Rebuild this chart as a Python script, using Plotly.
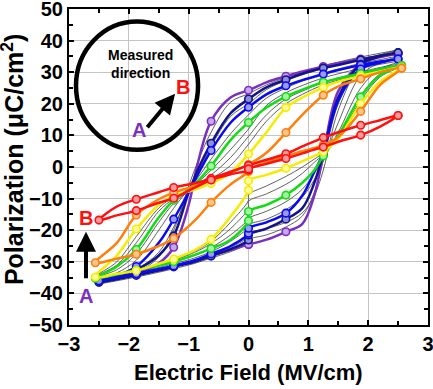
import plotly.graph_objects as go

# ---- field grids (MV/cm) ----
E_UP = [2.5, 2.2, 1.875, 1.5, 1.25, 0.9, 0.625, 0.3, 0, -0.3, -0.625, -0.85, -1.0, -1.25, -1.5, -1.875, -2.2, -2.5]
E_LO = [-2.5, -2.2, -1.875, -1.5, -1.25, -0.9, -0.625, -0.3, 0, 0, 0.3, 0.625, 0.9, 1.1, 1.25, 1.5, 1.875, 2.2, 2.5]
E_UP_W = [2.56, 2.2, 1.875, 1.5, 1.25, 0.9, 0.625, 0.3, 0, -0.3, -0.625, -0.85, -1.0, -1.25, -1.5, -1.875, -2.2, -2.56]
E_LO_W = [-2.56, -2.2, -1.875, -1.5, -1.25, -0.9, -0.625, -0.3, 0, 0, 0.3, 0.625, 0.9, 1.1, 1.25, 1.5, 1.875, 2.2, 2.56]
MARK_E = [-2.56, -2.5, -1.875, -1.25, -0.625, 0, 0.625, 1.25, 1.875, 2.5, 2.56]

# ---- polarization (uC/cm2), coloured loops ----
P_PURPLE_UP = [35.8, 35.0, 34.2, 32.8, 31.8, 30.2, 28.7, 26.8, 24.3, 22.0, 14.5, 1.0, -12.0, -25.4, -30.5, -33.8, -35.2, -36.3]
P_PURPLE_LO = [-36.3, -35.2, -34.0, -32.5, -31.3, -29.7, -28.0, -26.3, -24.5, -24.5, -23.0, -20.5, -18.0, -9.0, 4.0, 24.0, 32.5, 34.8, 35.8]
P_NAVY_UP = [36.2, 35.2, 33.9, 32.3, 31.3, 29.5, 27.6, 25.2, 21.5, 17.0, 7.5, -1.0, -8.0, -21.8, -28.0, -32.5, -34.8, -36.5]
P_NAVY_LO = [-36.5, -35.5, -34.3, -32.8, -31.6, -30.0, -28.2, -26.0, -23.1, -21.5, -19.5, -16.5, -13.0, -5.0, 4.5, 22.0, 32.5, 35.0, 36.2]
P_BLUE_UP = [34.2, 33.4, 32.3, 30.7, 29.4, 27.5, 25.7, 23.0, 18.9, 14.0, 5.2, -2.5, -8.0, -16.5, -24.0, -31.5, -34.5, -36.0]
P_BLUE_LO = [-36.0, -35.0, -33.8, -32.3, -31.3, -29.5, -27.5, -25.0, -21.0, -19.4, -17.5, -14.6, -9.0, -1.5, 4.5, 21.0, 31.0, 33.0, 34.2]
P_GREEN_UP = [32.1, 31.0, 29.6, 28.0, 26.8, 24.5, 22.3, 18.8, 14.1, 8.5, 0.3, -4.5, -7.0, -10.5, -16.0, -26.1, -31.5, -35.2]
P_GREEN_LO = [-35.2, -34.0, -32.6, -31.2, -30.0, -27.8, -25.8, -23.0, -17.0, -14.1, -12.0, -8.9, -5.0, -1.0, 3.5, 10.0, 22.2, 29.0, 32.1]
P_YELLOW_UP = [31.5, 30.2, 28.8, 27.0, 25.2, 22.0, 18.8, 11.0, 4.1, -1.8, -5.2, -6.8, -7.8, -9.0, -12.0, -19.6, -28.0, -34.8]
P_YELLOW_LO = [-34.8, -33.8, -32.8, -30.6, -29.1, -26.3, -22.9, -15.7, -7.3, -4.4, -2.5, -0.4, 1.8, 3.5, 4.8, 9.0, 20.0, 27.0, 31.5]
P_ORANGE_UP = [31.3, 30.0, 27.9, 25.5, 22.7, 16.5, 10.9, 4.5, 0.8, -1.8, -4.0, -5.6, -6.6, -8.1, -10.2, -15.2, -24.0, -30.3]
P_ORANGE_LO = [-30.3, -29.0, -27.6, -25.0, -22.6, -17.0, -11.2, -5.5, -1.4, -0.8, 1.5, 3.4, 5.0, 6.0, 7.0, 9.5, 17.6, 26.0, 31.3]
P_RED_UP = [16.3, 14.8, 13.2, 11.0, 9.3, 6.5, 4.2, 2.3, 0.5, -1.5, -3.6, -4.9, -5.5, -6.5, -8.0, -10.2, -12.5, -16.8]
P_RED_LO = [-16.8, -15.3, -13.8, -11.3, -9.9, -6.5, -4.1, -2.3, -1.0, -0.6, 1.0, 2.7, 4.3, 5.5, 6.3, 8.0, 10.1, 12.8, 16.3]

# ---- thin black intermediate loops ----
P_K1_UP = [37.0, 36.0, 34.8, 33.2, 32.0, 30.0, 28.3, 26.0, 23.2, 20.5, 11.0, 1.5, -6.0, -20.0, -28.5, -33.5, -35.5, -37.0]
P_K1_LO = [-37.0, -36.0, -34.8, -33.3, -32.2, -30.5, -28.8, -26.8, -24.0, -23.0, -21.5, -19.0, -15.5, -8.0, 2.0, 20.0, 32.5, 35.5, 37.0]
P_K2_UP = [36.5, 35.5, 34.2, 32.5, 31.3, 29.2, 27.3, 24.5, 20.0, 16.0, 6.5, -2.0, -8.5, -19.0, -27.0, -32.5, -35.0, -36.5]
P_K2_LO = [-36.5, -35.5, -34.3, -32.8, -31.5, -29.5, -27.8, -25.5, -22.0, -21.0, -19.5, -17.5, -14.5, -9.0, -1.0, 18.0, 32.0, 35.0, 36.5]
P_K3_UP = [35.0, 34.0, 32.8, 31.0, 29.7, 27.2, 25.0, 21.8, 16.5, 10.5, 2.5, -3.5, -7.0, -13.0, -20.0, -29.5, -33.5, -35.5]
P_K3_LO = [-35.5, -34.5, -33.3, -31.8, -30.6, -28.8, -26.8, -23.5, -19.0, -18.3, -16.5, -13.5, -9.5, -4.0, 2.0, 14.0, 29.0, 33.0, 35.0]
P_K4_UP = [33.5, 32.5, 31.2, 29.5, 28.2, 25.8, 23.5, 19.5, 12.0, 5.5, -1.0, -5.0, -7.5, -11.5, -17.5, -27.5, -32.5, -35.0]
P_K4_LO = [-35.0, -34.0, -32.8, -31.3, -30.0, -28.0, -25.5, -21.5, -16.5, -16.2, -14.0, -11.0, -7.0, -2.0, 3.0, 11.0, 25.0, 31.0, 33.5]
P_K5_UP = [32.5, 31.5, 30.0, 28.2, 26.8, 24.0, 21.5, 16.5, 9.7, 3.0, -2.5, -5.5, -7.3, -10.0, -14.0, -24.0, -31.0, -34.8]
P_K5_LO = [-34.8, -33.8, -32.6, -31.0, -29.6, -27.0, -24.2, -19.5, -13.0, -10.9, -8.5, -5.5, -2.0, 1.5, 4.0, 10.0, 22.5, 29.5, 32.5]
P_K6_UP = [32.0, 30.8, 29.3, 27.5, 26.0, 23.0, 20.0, 14.5, 7.2, 0.5, -3.8, -6.2, -7.6, -9.5, -13.0, -22.0, -30.0, -34.8]
P_K6_LO = [-34.8, -33.8, -32.7, -30.8, -29.4, -26.6, -23.5, -17.5, -10.5, -8.8, -6.0, -3.0, 0.0, 2.5, 4.5, 9.5, 21.0, 28.5, 32.0]

fig = go.Figure()

black_loops = [(E_UP, E_LO, P_K1_UP, P_K1_LO), (E_UP, E_LO, P_K2_UP, P_K2_LO),
               (E_UP, E_LO, P_K3_UP, P_K3_LO), (E_UP_W, E_LO_W, P_K4_UP, P_K4_LO),
               (E_UP_W, E_LO_W, P_K5_UP, P_K5_LO), (E_UP_W, E_LO_W, P_K6_UP, P_K6_LO)]
for eu, el, pu, pl in black_loops:
    fig.add_trace(go.Scatter(x=eu + el[1:], y=pu + pl[1:], mode="lines",
                             line=dict(color="#3a3a3a", width=0.8, shape="spline", smoothing=1),
                             hoverinfo="skip", showlegend=False))

colour_loops = [
    (E_UP, E_LO, P_PURPLE_UP, P_PURPLE_LO, "#7A2FC0", "#C9A6EE"),
    (E_UP, E_LO, P_NAVY_UP, P_NAVY_LO, "#13138A", "#8F8FD8"),
    (E_UP, E_LO, P_BLUE_UP, P_BLUE_LO, "#0A0AF0", "#9A9AFF"),
    (E_UP_W, E_LO_W, P_GREEN_UP, P_GREEN_LO, "#12DD12", "#A6F5A6"),
    (E_UP_W, E_LO_W, P_YELLOW_UP, P_YELLOW_LO, "#F5EC00", "#FFFA9E"),
    (E_UP_W, E_LO_W, P_ORANGE_UP, P_ORANGE_LO, "#FF7F0A", "#FFC690"),
    (E_UP, E_LO, P_RED_UP, P_RED_LO, "#FF1010", "#FF9A9A"),
]
for eu, el, pu, pl, col, fill in colour_loops:
    xs = eu + el[1:]
    ys = pu + pl[1:]
    fig.add_trace(go.Scatter(x=xs, y=ys, mode="lines",
                             line=dict(color=col, width=2.5, shape="spline", smoothing=1),
                             hoverinfo="skip", showlegend=False))
    mx = [x for x in xs if x in MARK_E]
    my = [y for x, y in zip(xs, ys) if x in MARK_E]
    fig.add_trace(go.Scatter(x=mx, y=my, mode="markers",
                             marker=dict(size=7.5, color=fill, line=dict(color=col, width=1.6)),
                             hoverinfo="skip", showlegend=False))

BOLD = "Liberation Sans, Arial, sans-serif"
TICK_FONT = dict(family=BOLD, size=20, color="black", weight="bold")

axis_common = dict(showline=True, linecolor="black", linewidth=2, mirror="allticks",
                   ticks="inside", ticklen=5, tickwidth=1.5, tickcolor="black",
                   showgrid=True, gridcolor="#c4c4c4", gridwidth=1, zeroline=False,
                   tickfont=TICK_FONT, automargin=False, ticklabeloverflow="allow")

fig.update_xaxes(range=[-3, 3], dtick=1, tick0=0,
                 minor=dict(ticks="inside", ticklen=4, dtick=0.5, tickcolor="black", showgrid=False),
                 **axis_common)
fig.update_yaxes(range=[-50, 50], dtick=10, tick0=0,
                 minor=dict(ticks="inside", ticklen=4, dtick=5, tickcolor="black", showgrid=False),
                 **axis_common)

ann = []
ann.append(dict(xref="paper", yref="paper", x=0.5, y=-0.151, text="<b>Electric Field (MV/cm)</b>",
                showarrow=False, xanchor="center", yanchor="middle",
                font=dict(family=BOLD, size=22, color="black")))
ann.append(dict(xref="paper", yref="paper", x=-0.156, y=0.525, text="<b>Polarization (μC/cm<sup>2</sup>)</b>",
                showarrow=False, xanchor="center", yanchor="middle", textangle=-90,
                font=dict(family=BOLD, size=25, color="black")))
ann.append(dict(x=-1.81, y=32.7, text="<b>Measured<br>direction</b>", showarrow=False,
                xanchor="center", yanchor="middle", font=dict(family=BOLD, size=14, color="black")))
# diagonal arrow A -> B
ann.append(dict(x=-1.227, y=23.2, ax=-29, ay=35, text="", showarrow=True,
                arrowhead=2, arrowsize=1, arrowwidth=4, arrowcolor="black"))
ann.append(dict(x=-1.835, y=11.8, text="<b>A</b>", showarrow=False, xanchor="center", yanchor="middle",
                font=dict(family=BOLD, size=20, color="#7A2FC0")))
ann.append(dict(x=-1.099, y=25.3, text="<b>B</b>", showarrow=False, xanchor="center", yanchor="middle",
                font=dict(family=BOLD, size=20, color="#FF1010")))
# vertical arrow at left
ann.append(dict(x=-2.716, y=-20.5, ax=0, ay=48, text="", showarrow=True,
                arrowhead=2, arrowsize=1, arrowwidth=4, arrowcolor="black"))
ann.append(dict(x=-2.716, y=-16.1, text="<b>B</b>", showarrow=False, xanchor="center", yanchor="middle",
                font=dict(family=BOLD, size=20, color="#FF1010")))
ann.append(dict(x=-2.716, y=-40.8, text="<b>A</b>", showarrow=False, xanchor="center", yanchor="middle",
                font=dict(family=BOLD, size=20, color="#7A2FC0")))

fig.update_layout(
    width=433, height=389,
    margin=dict(l=69, r=5, t=9, b=64, autoexpand=False),
    paper_bgcolor="white", plot_bgcolor="white",
    showlegend=False,
    annotations=ann,
    shapes=[dict(type="circle", xref="x", yref="y", x0=-2.883, x1=-0.843, y0=5.43, y1=46.07,
                 line=dict(color="black", width=4.5))],
)

fig.write_html("out.html", config={"displayModeBar": False},
               post_script="document.body.style.margin='0px';")
